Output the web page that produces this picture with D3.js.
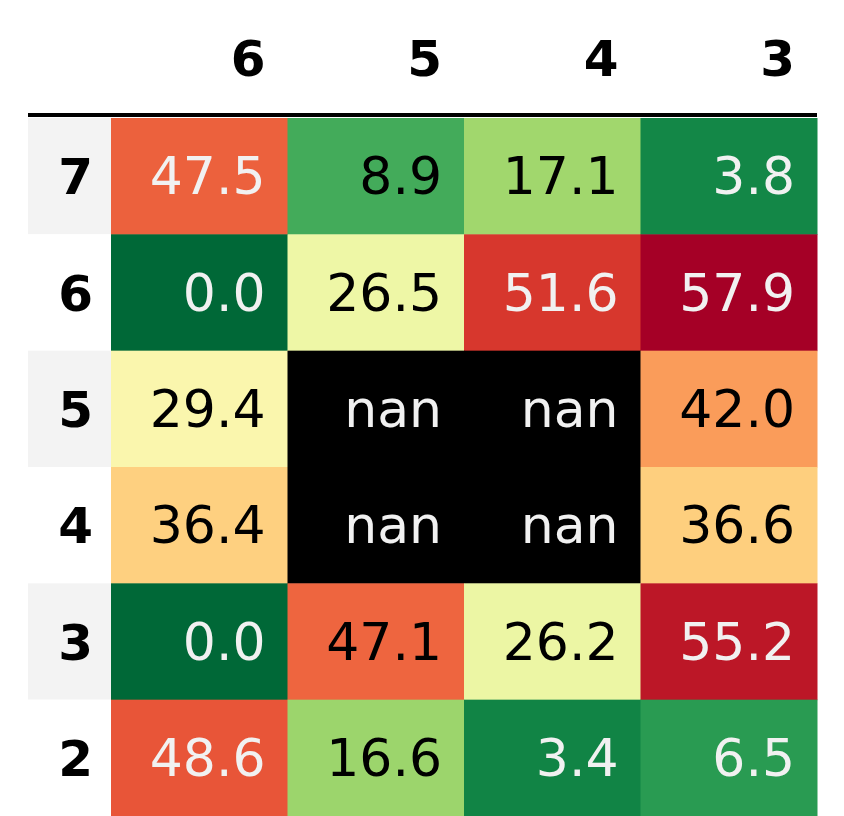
<!DOCTYPE html>
<html><head><meta charset="utf-8">
<script src="https://cdn.jsdelivr.net/npm/d3@7"></script>
<style>body{margin:0;background:#fff;} text{font-family:"DejaVu Sans",sans-serif;}</style>
</head><body><svg id="chart" width="844" height="816"></svg>
<script>
var columns = ["6", "5", "4", "3"];
var rows = ["7", "6", "5", "4", "3", "2"];
var values = [
  [47.5, 8.9, 17.1, 3.8],
  [0.0, 26.5, 51.6, 57.9],
  [29.4, null, null, 42.0],
  [36.4, null, null, 36.6],
  [0.0, 47.1, 26.2, 55.2],
  [48.6, 16.6, 3.4, 6.5]
];

var svg = d3.select("#chart");
var tableLeft = 28, idxW = 83, tableRight = 817, tableTop = 118, tableBottom = 816;

var x = d3.scaleBand().domain(columns).range([tableLeft + idxW, tableRight]);
var y = d3.scaleBand().domain(rows).range([tableTop, tableBottom]);
var flat = values.flat().filter(function(v){ return v != null; });
var color = d3.scaleSequential(function(t){ return d3.interpolateRdYlGn(1 - t); })
  .domain([d3.min(flat), d3.max(flat)]);

// header
svg.selectAll(".colLabel").data(columns).enter().append("text")
  .attr("x", function(d){ return x(d) + x.bandwidth() - 22; })
  .attr("y", 76).attr("text-anchor", "end")
  .style("font-size", "50px").style("font-weight", "bold").text(function(d){ return d; });
svg.append("rect").attr("x", tableLeft).attr("y", 113).attr("width", tableRight - tableLeft).attr("height", 4).attr("fill", "#000");

// index column
rows.forEach(function(r, i){
  svg.append("rect").attr("x", tableLeft).attr("y", y(r)).attr("width", idxW).attr("height", y.bandwidth())
    .attr("fill", i % 2 == 0 ? "#f3f3f3" : "#fff");
  svg.append("text").attr("x", tableLeft + idxW - 18).attr("y", y(r) + y.bandwidth()/2 + 18)
    .attr("text-anchor", "end").style("font-size", "50px").style("font-weight", "bold").text(r);
});

// cells
values.forEach(function(row, i){
  row.forEach(function(v, j){
    var fill = v == null ? "#000" : color(v);
    var c = d3.lab(fill);
    svg.append("rect").attr("x", x(columns[j])).attr("y", y(rows[i]))
      .attr("width", x.bandwidth() + 0.5).attr("height", y.bandwidth() + 0.5).attr("fill", fill);
    svg.append("text").attr("x", x(columns[j]) + x.bandwidth() - 22)
      .attr("y", y(rows[i]) + y.bandwidth()/2 + 18).attr("text-anchor", "end")
      .style("font-size", "52px")
      .attr("fill", c.l < 60 ? "#f1f1f1" : "#000")
      .text(v == null ? "nan" : v.toFixed(1));
  });
});
</script></body></html>
